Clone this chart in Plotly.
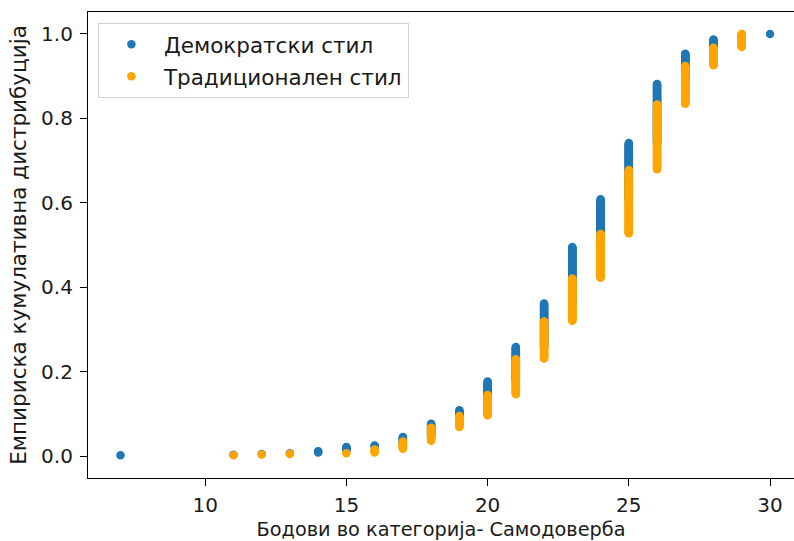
import plotly.graph_objects as go

# Scores (points in category "Самодоверба") and observation counts per group
scores = [7, 11, 12, 13, 14, 15, 16, 17, 18, 19, 20, 21, 22, 23, 24, 25, 26, 27, 28, 29, 30]
counts_dem = [1, 1, 1, 1, 3, 6, 2, 12, 19, 19, 41, 49, 62, 80, 68, 80, 84, 43, 20, 7, 1]
counts_trad = [0, 1, 1, 1, 0, 1, 5, 11, 19, 16, 29, 49, 52, 59, 61, 88, 90, 53, 25, 19, 0]

label_dem = "Демократски стил"
label_trad = "Традиционален стил"
x_title = "Бодови во категорија- Самодоверба"
y_title = "Емпириска кумулативна дистрибуција"
x_ticks = [10, 15, 20, 25, 30]
y_ticks = [0.0, 0.2, 0.4, 0.6, 0.8, 1.0]


def ecdf_points(xs, cs):
    n = sum(cs)
    px, py = [], []
    k = 0
    for x, c in zip(xs, cs):
        for _ in range(c):
            k += 1
            px.append(x)
            py.append(k / n)
    return px, py


xd, yd = ecdf_points(scores, counts_dem)
xt, yt = ecdf_points(scores, counts_trad)

fig = go.Figure()
fig.add_trace(go.Scatter(x=xd, y=yd, mode="markers", name=label_dem,
                         legendgroup="a",
                         marker=dict(color="#1f77b4", size=8.5, line=dict(width=0))))
fig.add_trace(go.Scatter(x=xt, y=yt, mode="markers", name=label_trad,
                         legendgroup="b",
                         marker=dict(color="#ffa500", size=8.5, line=dict(width=0))))

txt = "#1a1a1a"
tick_font = dict(family="DejaVu Sans", size=20, color=txt)
fig.update_layout(
    width=794, height=541,
    margin=dict(l=88, r=0, t=12, b=63),
    paper_bgcolor="white", plot_bgcolor="white",
    font=tick_font,
    showlegend=True,
    legend=dict(x=0.014, y=0.977, xanchor="left", yanchor="top",
                bgcolor="rgba(255,255,255,0.8)", bordercolor="#d0d0d0", borderwidth=1,
                font=dict(family="DejaVu Sans", size=21.5, color=txt),
                tracegroupgap=1, itemwidth=55),
    xaxis=dict(range=[5.85, 30.85], tickvals=x_ticks, ticktext=[str(v) for v in x_ticks],
               showgrid=False, zeroline=False, showline=True, linecolor="black", linewidth=1.2,
               mirror=True, ticks="outside", ticklen=7, tickcolor="black", tickwidth=1.2,
               tickfont=tick_font, ticklabelstandoff=2,
               title=dict(text=x_title, standoff=7,
                          font=dict(family="DejaVu Sans", size=19.3, color=txt)),
               automargin=False),
    yaxis=dict(range=[-0.052, 1.052], tickvals=y_ticks, ticktext=[f"{v:.1f}" for v in y_ticks],
               showgrid=False, zeroline=False, showline=True, linecolor="black", linewidth=1.2,
               ticks="outside", ticklen=7, tickcolor="black", tickwidth=1.2,
               tickfont=tick_font, ticklabelstandoff=3,
               title=dict(text=y_title, standoff=8,
                          font=dict(family="DejaVu Sans", size=21.5, color=txt)),
               automargin=False),
)

fig.write_html("out.html", config={"displayModeBar": False},
               post_script="document.body.style.margin='0px';")
